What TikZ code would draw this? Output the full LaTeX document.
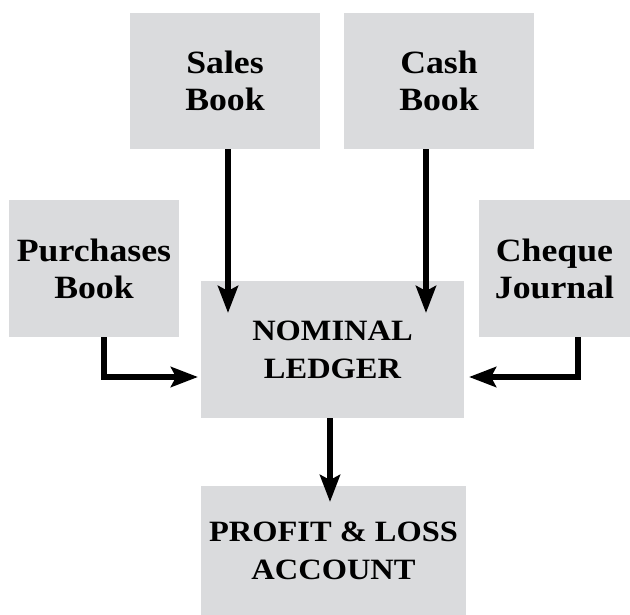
\documentclass[tikz,border=0pt]{standalone}
\usepackage{fontspec}
\setmainfont{Liberation Serif}[FakeStretch=1.1]
\usetikzlibrary{arrows.meta}
\definecolor{boxgray}{RGB}{218,219,221}
\begin{document}
\begin{tikzpicture}[x=1pt,y=-1pt,
  box/.style={fill=boxgray,draw=none,inner sep=0pt,align=center,font=\bfseries\fontsize{32.5}{37}\selectfont},
  capbox/.style={box,font=\bfseries\fontsize{29.5}{38}\selectfont},
  arr/.style={line width=5.6pt,-{Stealth[length=27pt,width=20pt,inset=5pt]}}]
\useasboundingbox (0,0) rectangle (630,615);
\node[box,minimum width=190pt,minimum height=136pt] (sales) at (225,81) {Sales\\Book};
\node[box,minimum width=190pt,minimum height=136pt] (cash) at (439,81) {Cash\\Book};
\node[box,minimum width=170pt,minimum height=137pt] (purch) at (94,268.5) {Purchases\\Book};
\node[box,minimum width=151pt,minimum height=137pt] (cheque) at (554.5,268.5) {Cheque\\Journal};
\node[capbox,minimum width=263pt,minimum height=137pt] (ledger) at (332.5,349.5) {NOMINAL\\LEDGER};
\node[capbox,minimum width=265pt,minimum height=129pt] (pl) at (333.5,550.5) {PROFIT \& LOSS\\ACCOUNT};
\coordinate (tipS) at (228,313);
\coordinate (tipC) at (426,313);
\coordinate (tipP) at (198,377);
\coordinate (tipQ) at (469,377);
\coordinate (tipL) at (330,502);
\draw[arr] ([xshift=3pt]sales.south) -- (tipS);
\draw[arr] ([xshift=-13pt]cash.south) -- (tipC);
\draw[arr] ([xshift=10pt]purch.south) |- (tipP);
\draw[arr] ([xshift=23.5pt]cheque.south) |- (tipQ);
\draw[arr] ([xshift=-2.5pt]ledger.south) -- (tipL);
\end{tikzpicture}
\end{document}
